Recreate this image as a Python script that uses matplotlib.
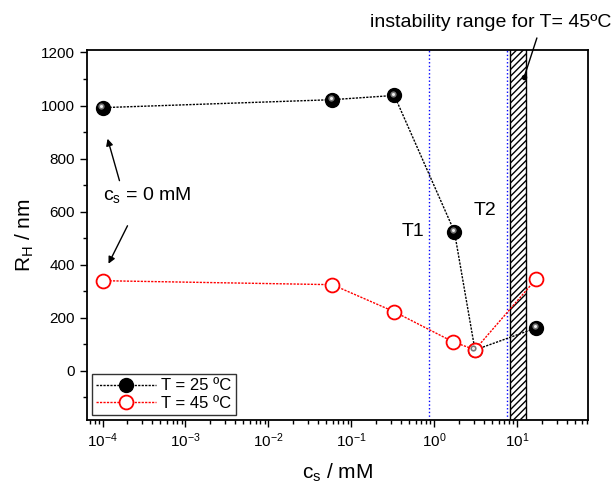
import matplotlib.pyplot as plt
import matplotlib.patches as mpatches
import matplotlib.transforms as mtransforms
import numpy as np

plt.rcParams['font.family'] = ['Liberation Sans', 'DejaVu Sans']
plt.rcParams['mathtext.default'] = 'regular'

# datos
cs_25 = [1e-4, 0.059, 0.33, 1.75, 3.1, 17]
rh_25 = [992, 1022, 1038, 525, 79, 162]
cs_45 = [1e-4, 0.059, 0.33, 1.7, 3.1, 17]
rh_45 = [340, 325, 223, 109, 80, 347]

T1 = 0.87
T2 = 7.6
inestable = [8.2, 12.8]

fig = plt.figure(figsize=(6.15, 4.93), dpi=100)
ax = fig.add_axes([0.1415, 0.148, 0.815, 0.751])

ax.axvline(T1, color='blue', ls=':', lw=1)
ax.axvline(T2, color='blue', ls=':', lw=1)
rect = mpatches.Rectangle((inestable[0], -200), inestable[1] - inestable[0], 1500,
                          facecolor='white', edgecolor='black', hatch='/////', lw=1, zorder=2)
ax.add_patch(rect)

# T = 25 (esferas negras)
ax.plot(cs_25, rh_25, ls='--', color='black', lw=1, dashes=(1.6, 0.9),
        marker='o', ms=10, mfc='black', mec='black', label='T = 25 ºC', zorder=3)
brillo = mtransforms.offset_copy(ax.transData, fig=fig, x=-1.2, y=1.2, units='points')
ax.plot(cs_25, rh_25, ls='none', marker='o', ms=4.5, mfc='#777777', mec='none',
        zorder=4, transform=brillo)
ax.plot(cs_25, rh_25, ls='none', marker='o', ms=2.2, mfc='#eeeeee', mec='none',
        zorder=5, transform=brillo)
# T = 45
ax.plot(cs_45, rh_45, ls='--', color='red', lw=1, dashes=(1.6, 0.9),
        marker='o', ms=10, mfc='white', mec='red', mew=1.3, label='T = 45 ºC', zorder=3)

ax.set_xscale('log')
ax.set_xlim(6.5e-5, 72)
ax.set_ylim(-185, 1210)
ax.set_yticks([0, 200, 400, 600, 800, 1000, 1200])
ax.set_yticks(np.arange(-100, 1201, 200), minor=True)
ax.tick_params(which='both', direction='out', labelsize=11)
ax.tick_params(which='major', length=5, width=1)
ax.tick_params(which='minor', length=3, width=1, labelbottom=False)
for s in ax.spines.values():
    s.set_linewidth(1.3)

ax.set_xlabel('c$_s$ / mM', fontsize=15, labelpad=8)
ax.set_ylabel('R$_H$ / nm', fontsize=15)

ax.text(1.0e-4, 664, 'c$_s$ = 0 mM', fontsize=14, va='center')
ax.annotate('', xy=(1.15e-4, 875), xytext=(1.6e-4, 717),
            arrowprops=dict(arrowstyle='-|>', color='black', lw=1, mutation_scale=10,
                            shrinkA=0, shrinkB=0))
ax.annotate('', xy=(1.18e-4, 404), xytext=(2.0e-4, 547),
            arrowprops=dict(arrowstyle='-|>', color='black', lw=1, mutation_scale=10,
                            shrinkA=0, shrinkB=0))

ax.text(0.55, 525, 'T1', fontsize=14, ha='center', va='center')
ax.text(4.1, 605, 'T2', fontsize=14, ha='center', va='center')

fig.text(0.798, 0.955, 'instability range for T= 45ºC', fontsize=14,
         ha='center', va='center')
ax.annotate('', xy=(12.2, 1109), xytext=(0.873, 0.923), textcoords='figure fraction',
            annotation_clip=False,
            arrowprops=dict(arrowstyle='-', color='black', lw=1, shrinkA=0, shrinkB=0))
ax.plot([12.2], [1109], marker='o', ms=3, color='black', zorder=6)

leg = ax.legend(loc='lower left', fontsize=12, frameon=True, fancybox=False,
                edgecolor='black', handlelength=3.6, borderpad=0.25,
                labelspacing=0.15, handletextpad=0.3, borderaxespad=0.3)
leg.get_frame().set_linewidth(1)

fig.savefig('out.png', dpi=100)
